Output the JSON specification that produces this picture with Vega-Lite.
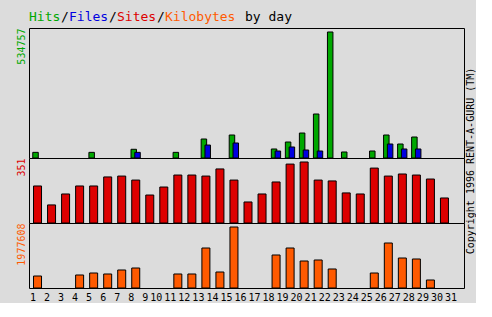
{
  "$schema": "https://vega.github.io/schema/vega-lite/v6.json",
  "background": "#DCDCDC",
  "padding": {"left": 15, "top": 5, "right": 0, "bottom": 0},
  "spacing": 0,
  "bounds": "flush",
  "config": {
    "view": {"stroke": "black", "strokeWidth": 1, "fill": "#DCDCDC"},
    "font": "DejaVu Sans Mono",
    "axis": {"grid": false, "domain": false, "ticks": false, "labels": false, "titleFont": "DejaVu Sans Mono", "titleFontWeight": "normal", "titleFontSize": 10}
  },
  "datasets": {
    "daily": [
      {"day": 1, "hits": 24000, "files": null, "sites": 213, "kbytes": 389000},
      {"day": 2, "hits": null, "files": null, "sites": 104, "kbytes": null},
      {"day": 3, "hits": null, "files": null, "sites": 167, "kbytes": null},
      {"day": 4, "hits": null, "files": null, "sites": 213, "kbytes": 421500},
      {"day": 5, "hits": 24000, "files": null, "sites": 213, "kbytes": 486300},
      {"day": 6, "hits": null, "files": null, "sites": 265, "kbytes": 453900},
      {"day": 7, "hits": null, "files": null, "sites": 270, "kbytes": 583600},
      {"day": 8, "hits": 37000, "files": 24000, "sites": 247, "kbytes": 648400},
      {"day": 9, "hits": null, "files": null, "sites": 161, "kbytes": null},
      {"day": 10, "hits": null, "files": null, "sites": 207, "kbytes": null},
      {"day": 11, "hits": 24000, "files": null, "sites": 276, "kbytes": 453900},
      {"day": 12, "hits": null, "files": null, "sites": 276, "kbytes": 453900},
      {"day": 13, "hits": 80600, "files": 55000, "sites": 270, "kbytes": 1296800},
      {"day": 14, "hits": null, "files": null, "sites": 311, "kbytes": 518700},
      {"day": 15, "hits": 97600, "files": 63700, "sites": 247, "kbytes": 1977608},
      {"day": 16, "hits": null, "files": null, "sites": 121, "kbytes": null},
      {"day": 17, "hits": null, "files": null, "sites": 167, "kbytes": null},
      {"day": 18, "hits": 38200, "files": 29700, "sites": 236, "kbytes": 1069900},
      {"day": 19, "hits": 67900, "files": 46700, "sites": 339, "kbytes": 1296800},
      {"day": 20, "hits": 106000, "files": 34000, "sites": 351, "kbytes": 875300},
      {"day": 21, "hits": 186700, "files": 29700, "sites": 247, "kbytes": 907800},
      {"day": 22, "hits": 534757, "files": null, "sites": 242, "kbytes": 616000},
      {"day": 23, "hits": 25500, "files": null, "sites": 173, "kbytes": null},
      {"day": 24, "hits": null, "files": null, "sites": 167, "kbytes": null},
      {"day": 25, "hits": 29700, "files": null, "sites": 316, "kbytes": 486300},
      {"day": 26, "hits": 97600, "files": 59400, "sites": 270, "kbytes": 1458900},
      {"day": 27, "hits": 59400, "files": 38200, "sites": 282, "kbytes": 972600},
      {"day": 28, "hits": 89100, "files": 38200, "sites": 276, "kbytes": 940200},
      {"day": 29, "hits": null, "files": null, "sites": 253, "kbytes": 259400},
      {"day": 30, "hits": null, "files": null, "sites": 144, "kbytes": null},
      {"day": 31, "hits": null, "files": null, "sites": null, "kbytes": null}
    ],
    "titleparts": [
      {"seg": "Hits", "pos": 0},
      {"seg": "/", "pos": 4},
      {"seg": "Files", "pos": 5},
      {"seg": "/", "pos": 10},
      {"seg": "Sites", "pos": 11},
      {"seg": "/", "pos": 16},
      {"seg": "Kilobytes", "pos": 17},
      {"seg": "by day", "pos": 27}
    ]
  },
  "vconcat": [
    {
      "data": {"name": "titleparts"},
      "width": 435,
      "height": 23,
      "view": {"stroke": null},
      "mark": {"type": "text", "align": "left", "baseline": "middle", "fontSize": 13, "font": "DejaVu Sans Mono"},
      "encoding": {
        "x": {"field": "pos", "type": "quantitative", "scale": {"domain": [0, 54.375], "nice": false, "zero": true}, "axis": null},
        "text": {"field": "seg", "type": "nominal"},
        "color": {"field": "seg", "type": "nominal", "legend": null,
          "scale": {"domain": ["Hits", "/", "Files", "Sites", "Kilobytes", "by day"],
                    "range": ["#00A800", "#000000", "#0000E0", "#DD0000", "#FF5A00", "#000000"]}}
      }
    },
    {
      "data": {"name": "daily"},
      "width": 435,
      "height": 130,
      "encoding": {
        "x": {"field": "day", "type": "ordinal", "axis": null,
          "scale": {"domain": [1,2,3,4,5,6,7,8,9,10,11,12,13,14,15,16,17,18,19,20,21,22,23,24,25,26,27,28,29,30,31], "paddingInner": 0, "paddingOuter": 0}}
      },
      "layer": [
        {
          "mark": {"type": "bar", "width": 5.5, "xOffset": -0.5, "fill": "#00A800", "stroke": "black", "strokeWidth": 1},
          "encoding": {
            "y": {"field": "hits", "type": "quantitative", "scale": {"domain": [0, 551733], "nice": false},
              "axis": {"orient": "left", "title": "534757", "titleColor": "#00A800", "titleAnchor": "end", "titlePadding": 3}}
          }
        },
        {
          "mark": {"type": "bar", "width": 5.5, "xOffset": 3.3, "fill": "#0000E0", "stroke": "black", "strokeWidth": 1},
          "encoding": {
            "y": {"field": "files", "type": "quantitative",
              "axis": {"orient": "right", "title": "Copyright 1996 RENT-A-GURU (TM)", "titleColor": "black", "titleAngle": 270, "titleX": 9, "titleY": 132.5, "titleAlign": "center", "titleBaseline": "alphabetic"}}
          }
        }
      ],
      "resolve": {"axis": {"y": "independent"}}
    },
    {
      "data": {"name": "daily"},
      "width": 435,
      "height": 65,
      "mark": {"type": "bar", "width": 8, "xOffset": 1.5, "fill": "#DD0000", "stroke": "black", "strokeWidth": 1},
      "encoding": {
        "x": {"field": "day", "type": "ordinal", "axis": null,
          "scale": {"domain": [1,2,3,4,5,6,7,8,9,10,11,12,13,14,15,16,17,18,19,20,21,22,23,24,25,26,27,28,29,30,31], "paddingInner": 0, "paddingOuter": 0}},
        "y": {"field": "sites", "type": "quantitative", "scale": {"domain": [0, 374], "nice": false},
          "axis": {"title": "351", "titleColor": "#DD0000", "titleAnchor": "end", "titlePadding": 3}}
      }
    },
    {
      "data": {"name": "daily"},
      "width": 435,
      "height": 65,
      "mark": {"type": "bar", "width": 8, "xOffset": 1.5, "fill": "#FF5A00", "stroke": "black", "strokeWidth": 1},
      "encoding": {
        "x": {"field": "day", "type": "ordinal",
          "scale": {"domain": [1,2,3,4,5,6,7,8,9,10,11,12,13,14,15,16,17,18,19,20,21,22,23,24,25,26,27,28,29,30,31], "paddingInner": 0, "paddingOuter": 0},
          "axis": {"title": null, "labels": true, "labelAngle": 0, "labelAlign": "right", "labelDx": 5.5, "labelPadding": 4, "labelBaseline": "top", "labelFont": "DejaVu Sans Mono", "labelFontSize": 10, "labelColor": "black", "labelOverlap": false, "labelBound": false}},
        "y": {"field": "kbytes", "type": "quantitative", "scale": {"domain": [0, 2107320], "nice": false},
          "axis": {"title": "1977608", "titleColor": "#FF5A00", "titleAnchor": "end", "titlePadding": 3}}
      }
    }
  ]
}
